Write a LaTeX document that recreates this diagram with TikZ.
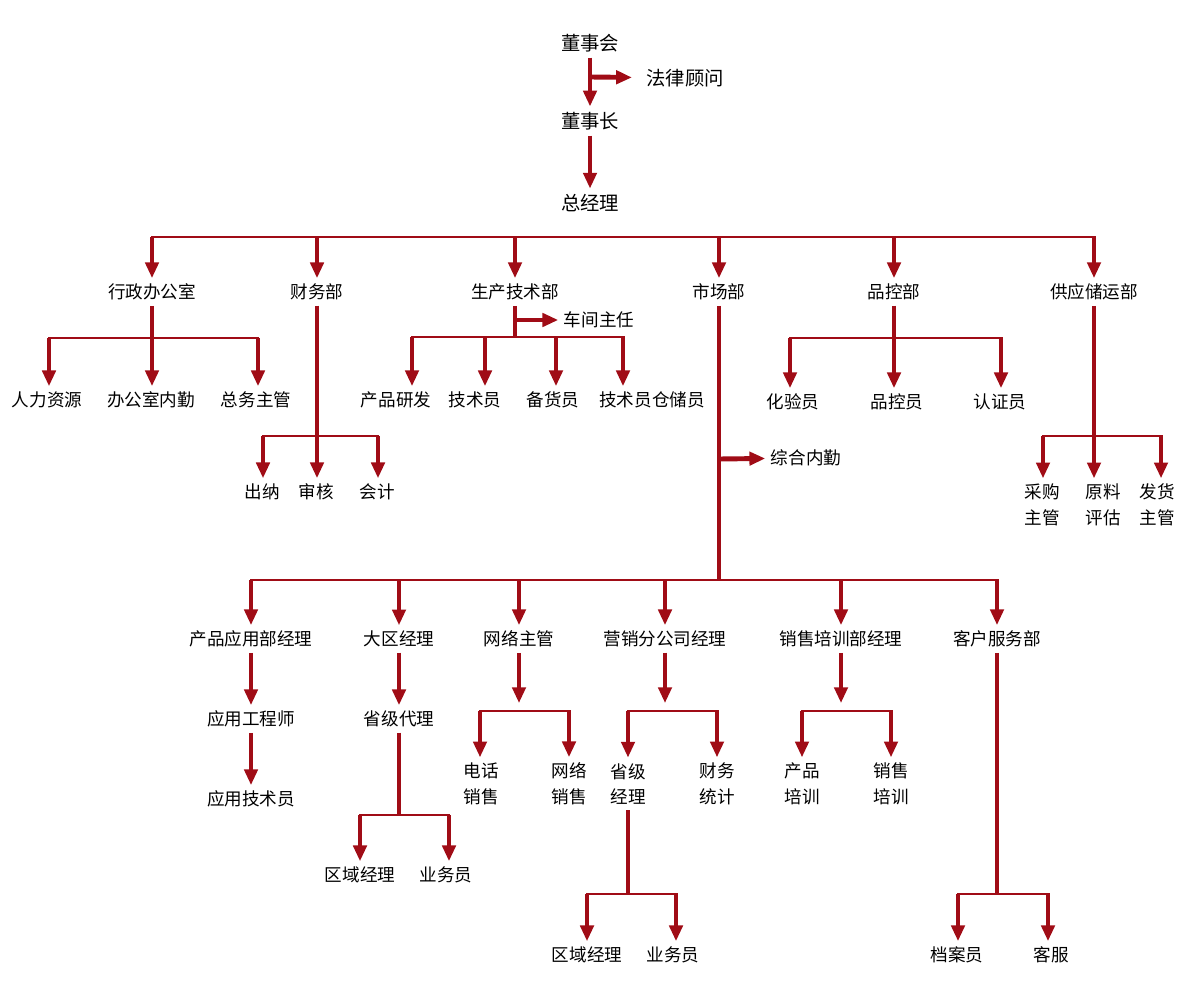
\documentclass[tikz,border=0pt]{standalone}
\usepackage{fontspec}
\usetikzlibrary{arrows.meta}
\newfontfamily\cjkfont{Noto Sans CJK SC}
\definecolor{chartred}{HTML}{A00C16}
\tikzset{
  lbl/.style={font={\fontsize{10pt}{14.7pt}\cjkfont}, inner sep=3pt, align=center},
  toplbl/.style={lbl, font={\fontsize{11pt}{13pt}\cjkfont}},
  ar/.style={-{Triangle[width=7.5pt,length=9pt]}, line width=2.8pt, draw=chartred},
  arsh/.style={ar, shorten >=4.5pt},
  trunk/.style={line width=2.8pt, draw=chartred},
  bus/.style={line width=1.7pt, draw=chartred, line cap=rect}
}
\begin{document}
\begin{tikzpicture}[x=0.02cm,y=-0.02cm]
  \useasboundingbox (0,0) rectangle (1200,986);
  \node[toplbl] (dsh) at (590,43) {董事会};
  \node[toplbl] (flgw) at (685,78) {法律顾问};
  \node[toplbl] (dsz) at (590,121) {董事长};
  \node[toplbl] (zjl) at (590,203) {总经理};
  \coordinate (fl) at (590,77);
  \draw[ar] (dsh) -- (dsz); \draw[ar, shorten >=5pt] (fl) -- (flgw);
  \draw[ar] (dsz) -- (zjl);

  \node[lbl] (xz) at (152,292) {行政办公室};
  \node[lbl] (cw) at (317,292) {财务部};
  \node[lbl] (sc) at (515,292) {生产技术部};
  \node[lbl] (sca) at (719,292) {市场部};
  \node[lbl] (pk) at (894,292) {品控部};
  \node[lbl] (gy) at (1094,292) {供应储运部};
  \coordinate (busa) at (0,237);
  \draw[bus] (xz |- busa) -- (gy |- busa);
  \foreach \n in {xz,cw,sc,sca,pk,gy} \draw[ar] (\n |- busa) -- (\n);

  \node[lbl] (rlzy) at (47,400) {人力资源};
  \node[lbl] (bgsnq) at (151,400) {办公室内勤};
  \node[lbl] (zwzg) at (256,400) {总务主管};
  \foreach \x/\n in {49/rlzy,152/bgsnq,258/zwzg}{
    \coordinate (\n-in) at (\x,338);
    \draw[ar] (\n-in) -- (\n-in |- \n.north);
  }
  \draw[bus] (rlzy-in) -- (zwzg-in); \draw[trunk] (xz) -- (bgsnq-in);

  \node[lbl] (cn) at (262,492) {出纳};
  \node[lbl] (sh) at (316,492) {审核};
  \node[lbl] (kj) at (377,492) {会计};
  \foreach \x/\n in {263/cn,317/sh,378/kj}{
    \coordinate (\n-in) at (\x,436);
    \draw[ar] (\n-in) -- (\n-in |- \n.north);
  }
  \draw[bus] (cn-in) -- (kj-in); \draw[trunk] (cw) -- (sh-in);

  \node[lbl] (cjzr) at (599,320) {车间主任};
  \node[lbl] (cpyf) at (396,400) {产品研发};
  \node[lbl] (jsy) at (475,400) {技术员};
  \node[lbl] (bhy) at (553,400) {备货员};
  \node[lbl] (jsyc) at (652,400) {技术员仓储员};
  \foreach \x/\n in {412/cpyf,485/jsy,556/bhy,623/jsyc}{
    \coordinate (\n-in) at (\x,337);
    \draw[ar] (\n-in) -- (\n-in |- \n.north);
  }
  \coordinate (scb) at (515,337); \coordinate (cj) at (515,320);
  \draw[bus] (cpyf-in) -- (jsyc-in); \draw[trunk] (sc) -- (scb);
  \draw[ar] (cj) -- (cjzr);

  \node[lbl] (hyy) at (793,402) {化验员};
  \node[lbl] (pky) at (897,402) {品控员};
  \node[lbl] (rzy) at (1000,402) {认证员};
  \foreach \x/\n in {790/hyy,894/pky,1001/rzy}{
    \coordinate (\n-in) at (\x,338);
    \draw[ar] (\n-in) -- (\n-in |- \n.north);
  }
  \draw[bus] (hyy-in) -- (rzy-in); \draw[trunk] (pk) -- (pky-in);

  \node[lbl] (cg) at (1042,505) {采购\\主管};
  \node[lbl] (ylpg) at (1103,505) {原料\\评估};
  \node[lbl] (fh) at (1157,505) {发货\\主管};
  \foreach \x/\n in {1043/cg,1094/ylpg,1161/fh}{
    \coordinate (\n-in) at (\x,436);
    \draw[ar] (\n-in) -- (\n-in |- \n.north);
  }
  \draw[bus] (cg-in) -- (fh-in); \draw[trunk] (gy) -- (ylpg-in);

  \coordinate (mkt) at (719,580); \coordinate (zh) at (719,459);
  \node[lbl] (zhnq) at (806,458) {综合内勤};
  \draw[trunk] (sca) -- (mkt); \draw[ar] (zh) -- (zhnq);

  \node[lbl] (cpyy) at (251,639) {产品应用部经理};
  \node[lbl] (dqjl) at (399,639) {大区经理};
  \node[lbl] (wlzg) at (519,639) {网络主管};
  \node[lbl] (yxfgs) at (665,639) {营销分公司经理};
  \node[lbl] (xspx) at (841,639) {销售培训部经理};
  \node[lbl] (khfw) at (997,639) {客户服务部};
  \draw[bus] (cpyy |- mkt) -- (khfw |- mkt);
  \foreach \n in {cpyy,dqjl,wlzg,yxfgs,xspx,khfw} \draw[ar] (\n |- mkt) -- (\n);

  \node[lbl] (yygcs) at (251,719) {应用工程师};
  \node[lbl] (yyjsy) at (251,799) {应用技术员};
  \draw[ar] (cpyy) -- (yygcs); \draw[ar] (yygcs) -- (yyjsy);

  \node[lbl] (sjdl) at (399,719) {省级代理};
  \draw[ar] (dqjl) -- (sjdl);
  \node[lbl] (qyjl) at (360,875) {区域经理};
  \node[lbl] (ywy) at (446,875) {业务员};
  \foreach \x/\n in {360/qyjl,449/ywy}{
    \coordinate (\n-in) at (\x,815);
    \draw[ar] (\n-in) -- (\n-in |- \n.north);
  }
  \coordinate (sjb) at (399,815);
  \draw[bus] (qyjl-in) -- (ywy-in); \draw[trunk] (sjdl) -- (sjb);

  \coordinate (wlb) at (519,711);
  \draw[arsh] (wlzg) -- (wlb);
  \node[lbl] (dhxs) at (481,784) {电话\\销售};
  \node[lbl] (wlxs) at (569,784) {网络\\销售};
  \foreach \x/\n in {480/dhxs,569/wlxs}{
    \coordinate (\n-in) at (\x,711);
    \draw[ar] (\n-in) -- (\n-in |- \n.north);
  }
  \draw[bus] (dhxs-in) -- (wlxs-in);

  \coordinate (yxb) at (665,711);
  \draw[arsh] (yxfgs) -- (yxb);
  \node[lbl] (sjjl) at (628,784) {省级\\经理};
  \node[lbl] (cwtj) at (717,784) {财务\\统计};
  \foreach \x/\n in {628/sjjl,717/cwtj}{
    \coordinate (\n-in) at (\x,711);
    \draw[ar] (\n-in) -- (\n-in |- \n.north);
  }
  \draw[bus] (sjjl-in) -- (cwtj-in);
  \node[lbl] (qyjlb) at (587,955) {区域经理};
  \node[lbl] (ywyb) at (673,955) {业务员};
  \foreach \x/\n in {587/qyjlb,676/ywyb}{
    \coordinate (\n-in) at (\x,894);
    \draw[ar] (\n-in) -- (\n-in |- \n.north);
  }
  \coordinate (sjjlb) at (628,894);
  \draw[bus] (qyjlb-in) -- (ywyb-in); \draw[trunk] (sjjl) -- (sjjlb);

  \coordinate (xsb) at (841,711);
  \draw[arsh] (xspx) -- (xsb);
  \node[lbl] (cppx) at (802,784) {产品\\培训};
  \node[lbl] (xspxb) at (891,784) {销售\\培训};
  \foreach \x/\n in {802/cppx,891/xspxb}{
    \coordinate (\n-in) at (\x,711);
    \draw[ar] (\n-in) -- (\n-in |- \n.north);
  }
  \draw[bus] (cppx-in) -- (xspxb-in);

  \node[lbl] (day) at (957,955) {档案员};
  \node[lbl] (kf) at (1051,955) {客服};
  \foreach \x/\n in {958/day,1048/kf}{
    \coordinate (\n-in) at (\x,894);
    \draw[ar] (\n-in) -- (\n-in |- \n.north);
  }
  \coordinate (khb) at (997,894);
  \draw[bus] (day-in) -- (kf-in); \draw[trunk] (khfw) -- (khb);
\end{tikzpicture}
\end{document}
